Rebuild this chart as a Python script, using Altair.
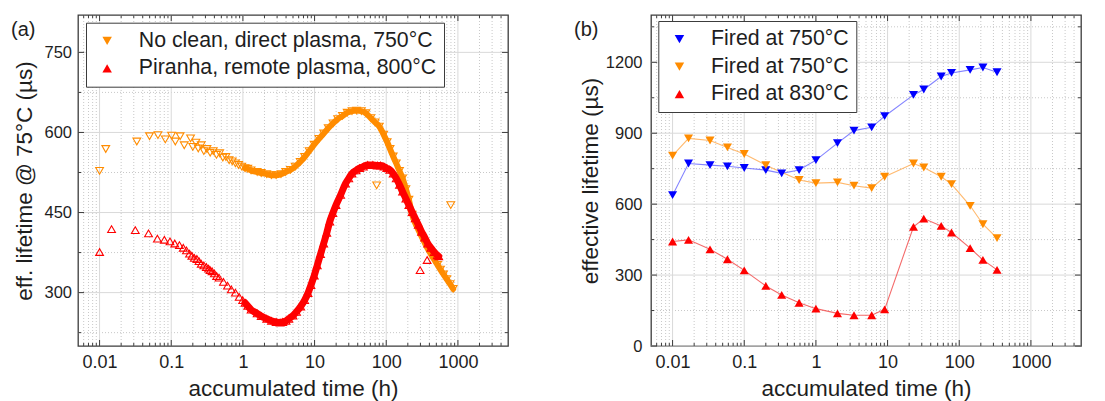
import altair as alt
import pandas as pd

FONT = "Liberation Sans"
INK = "#1e1e1e"
FRAME = "#3c3c3c"
GRID = "#d9d9d9"
GRID_MINOR = "#c8c8c8"

H = 331
WA = 430
WB = 430
XDOM_A = [0.005, 5000]
XDOM_B = [0.005, 5000]
YDOM_A = [200, 820]
YDOM_B = [0, 1400]

panel_labels = ["(a)", "(b)"]
x_title = "accumulated time (h)"
a_y_title = "eff. lifetime @ 75°C (µs)"
b_y_title = "effective lifetime (µs)"

# ---------------- panel (a) ----------------
a_series = ["No clean, direct plasma, 750°C", "Piranha, remote plasma, 800°C"]
a_colors = ["#ff8c00", "#ff0000"]
a_shapes = ["triangle-down", "triangle-up"]

a_or_sparse_t = [0.0100, 0.0122, 0.0331, 0.0497, 0.0653, 0.0826, 0.101, 0.114, 0.133, 0.152,
                 0.186, 0.200, 0.221, 0.238, 0.262, 0.285, 0.315, 0.349, 0.386, 0.428,
                 0.474, 0.525, 0.580, 0.642, 0.711, 0.787, 0.870, 0.964]
a_or_sparse_v = [528, 569, 583, 593, 595, 587, 594, 583, 593, 576,
                 589, 573, 581, 570, 576, 565, 569, 562, 565, 558,
                 561, 553, 554, 548, 546, 542, 539, 536]

a_or_dense_t = [1.07, 1.17, 1.3, 1.58, 1.8, 2.15, 2.5, 2.91, 3.4, 3.95,
                4.6, 5.36, 6.3, 7.27, 8.4, 9.85, 11.5, 13.4, 15.5, 18.1,
                21, 24.5, 28.5, 33.3, 38.5, 45, 52, 61, 70, 80,
                92, 103, 113, 125, 138, 153, 169, 188, 207, 230,
                254, 280, 311, 345, 380, 420, 467, 520, 571, 630,
                700, 780, 859]
a_or_dense_v = [533, 532, 529, 526, 524, 522, 520, 520, 522, 526,
                530, 536, 545, 554, 565, 577, 588, 598, 608, 617,
                625, 631, 637, 640, 641, 640, 636, 627, 619, 611,
                596, 582, 569, 555, 542, 528, 514, 494, 474, 446,
                430, 418, 405, 393, 382, 372, 362, 352, 343, 334,
                325, 316, 307]
a_or_out_t = [73.5, 795]
a_or_out_v = [501, 464]

a_rd_sparse_t = [0.0100, 0.0147, 0.0315, 0.0482, 0.0641, 0.0801, 0.0961, 0.112, 0.130, 0.147,
                 0.163, 0.180, 0.194, 0.210, 0.228, 0.244, 0.262, 0.285, 0.309, 0.332,
                 0.349, 0.371, 0.400, 0.430, 0.464, 0.535, 0.610, 0.689, 0.786, 0.888, 0.993]
a_rd_sparse_v = [376, 419, 417, 411, 401, 399, 396, 392, 389, 384,
                 379, 373, 369, 365, 363, 359, 354, 351, 348, 345,
                 342, 340, 336, 331, 328, 320, 313, 306, 300, 292, 286]

a_rd_dense_t = [1.07, 1.17, 1.3, 1.58, 1.8, 2.15, 2.5, 2.91, 3.3, 3.6,
                4.0, 4.37, 5.0, 5.6, 6.4, 7.27, 8.1, 8.9, 9.9, 10.9,
                12.1, 13.4, 14.8, 16.3, 18, 19.9, 23.1, 27, 30, 33.3,
                38, 42.5, 48, 55, 65, 75, 83, 93, 102, 112,
                125, 138, 153, 169, 188, 207, 230, 254, 280, 311,
                345, 380, 420, 467, 515, 540]
a_rd_dense_v = [281, 275, 268, 261, 256, 251, 247, 245, 244, 245,
                247, 251, 257, 264, 274, 286, 299, 314, 332, 351,
                372, 392, 412, 433, 449, 464, 483, 504, 514, 523,
                529, 533, 536, 539, 539, 538, 538, 536, 533, 530,
                523, 514, 502, 489, 476, 464, 451, 439, 427, 414,
                403, 392, 384, 376, 370, 368]
a_rd_out_t = [297, 372]
a_rd_out_v = [342, 361]

# ---------------- panel (b) ----------------
b_keys = ["s1", "s2", "s3"]
b_labels = ["Fired at 750°C", "Fired at 750°C", "Fired at 830°C"]
b_colors = ["#0000ff", "#ff8c00", "#ff0000"]
b_line_colors = ["#6f6fff", "#ffad55", "#f25050"]
b_shapes = ["triangle-down", "triangle-down", "triangle-up"]

b_t_blue = [0.01, 0.0167, 0.0333, 0.0583, 0.1, 0.2, 0.333, 0.583, 1, 2,
            3.4, 6, 9.1, 23, 32, 56, 78, 142, 214, 337]
b_v_blue = [638, 772, 765, 760, 753, 744, 730, 744, 786, 858,
            911, 925, 972, 1062, 1085, 1140, 1155, 1168, 1178, 1158]
b_t_orange = [0.01, 0.0167, 0.0333, 0.0583, 0.1, 0.2, 0.583, 1, 2,
              3.4, 6, 9.1, 23, 32, 56, 78, 142, 214, 337]
b_v_orange = [805, 878, 869, 840, 812, 765, 702, 689, 692,
              678, 668, 716, 772, 755, 716, 685, 593, 515, 456]
b_t_red = [0.01, 0.0167, 0.0333, 0.0583, 0.1, 0.2, 0.333, 0.583, 1, 2,
           3.4, 6, 9.1, 23, 32, 56, 78, 142, 214, 337]
b_v_red = [442, 449, 409, 367, 320, 254, 216, 183, 158, 138,
           130, 130, 155, 504, 539, 508, 480, 414, 364, 322]

# ---------------- axes ----------------
x_major = [0.01, 0.1, 1, 10, 100, 1000]
a_y_major = [300, 450, 600, 750]
a_y_minor = [225, 375, 525, 675]
b_y_major = [0, 300, 600, 900, 1200]
b_y_minor = [150, 450, 750, 1050, 1350]


def minor_decades(dom):
    out = []
    for e in range(-4, 5):
        for k in range(2, 10):
            val = k * 10.0 ** e
            if dom[0] * 1.0001 < val < dom[1] * 0.9999:
                out.append(val)
    return out


def decor(X, Y, W, xmin, ymaj, ymin):
    dfx = pd.DataFrame({"t": x_major})
    dfxm = pd.DataFrame({"t": xmin})
    dfy = pd.DataFrame({"v": ymaj})
    dfym = pd.DataFrame({"v": ymin})
    L = []
    L.append(alt.Chart(dfxm).mark_rule(color=GRID_MINOR, strokeWidth=1, strokeDash=[1, 2]).encode(x=X))
    L.append(alt.Chart(dfym).mark_rule(color=GRID_MINOR, strokeWidth=1, strokeDash=[1, 2]).encode(y=Y))
    L.append(alt.Chart(dfx).mark_rule(color=GRID, strokeWidth=1).encode(x=X))
    L.append(alt.Chart(dfy).mark_rule(color=GRID, strokeWidth=1).encode(y=Y))
    for df, n in ((dfx, 6), (dfxm, 3)):
        L.append(alt.Chart(df).mark_rule(color=FRAME, strokeWidth=1).encode(
            x=X, y=alt.value(H), y2=alt.value(H - n)))
        L.append(alt.Chart(df).mark_rule(color=FRAME, strokeWidth=1).encode(
            x=X, y=alt.value(0), y2=alt.value(n)))
    for df, n in ((dfy, 6), (dfym, 3)):
        L.append(alt.Chart(df).mark_rule(color=FRAME, strokeWidth=1).encode(
            y=Y, x=alt.value(0), x2=alt.value(n)))
        L.append(alt.Chart(df).mark_rule(color=FRAME, strokeWidth=1).encode(
            y=Y, x=alt.value(W), x2=alt.value(W - n)))
    return L


def x_axis():
    return alt.Axis(values=x_major, format="~g", title=x_title, labelFontSize=18,
                    labelPadding=7, titleFontSize=22.5, titleY=42, titleBaseline="middle",
                    labelOverlap=False, labelFlush=False)


def make_legend(lx, ly, expr=None):
    kw = dict(title=None, orient="none", legendX=lx, legendY=ly, direction="vertical",
              labelFont=FONT, labelFontSize=21.3, labelColor=INK, labelLimit=1000,
              symbolSize=90, symbolOpacity=1, symbolOffset=3, labelOffset=21,
              padding=7.5, rowPadding=5.5, strokeColor=FRAME, fillColor="white",
              cornerRadius=0)
    if expr is not None:
        kw["labelExpr"] = expr
    return alt.Legend(**kw)


def df_of(t, v, name, col):
    return pd.DataFrame({"t": t, "v": v, col: name})


# ---------------- build panel (a) ----------------
xs_a = alt.Scale(type="log", domain=XDOM_A, nice=False)
ys_a = alt.Scale(domain=YDOM_A, nice=False, zero=False)
y_axis_a = alt.Axis(values=a_y_major, format="d", title=a_y_title, labelFontSize=16.5,
                    labelPadding=6.5, titleFontSize=22.5, titleX=-54, titleBaseline="middle")
XA = alt.X("t:Q", scale=xs_a, axis=x_axis())
YA = alt.Y("v:Q", scale=ys_a, axis=y_axis_a)

or_sp = df_of(a_or_sparse_t, a_or_sparse_v, a_series[0], "sample")
or_dn = df_of(a_or_dense_t, a_or_dense_v, a_series[0], "sample")
or_out = df_of(a_or_out_t, a_or_out_v, a_series[0], "sample")
rd_sp = df_of(a_rd_sparse_t, a_rd_sparse_v, a_series[1], "sample")
rd_dn = df_of(a_rd_dense_t, a_rd_dense_v, a_series[1], "sample")
rd_out = df_of(a_rd_out_t, a_rd_out_v, a_series[1], "sample")


def open_pts(df, color, shape, size=60):
    return alt.Chart(df).mark_point(shape=shape, filled=False, color=color, size=size,
                                    strokeWidth=1.1, opacity=1).encode(x=XA, y=YA)


def band(df, color, w):
    return alt.Chart(df).mark_line(color=color, strokeWidth=w, strokeJoin="round",
                                   strokeCap="round", interpolate="monotone").encode(x=XA, y=YA)


legend_a = make_legend(8, 7.7)

leg_layer_a = alt.Chart(pd.concat([or_sp, rd_sp])).mark_point(filled=True, opacity=0, size=10).encode(
    x=XA, y=YA,
    color=alt.Color("sample:N", scale=alt.Scale(domain=a_series, range=a_colors), legend=legend_a),
    shape=alt.Shape("sample:N", scale=alt.Scale(domain=a_series, range=a_shapes), legend=legend_a),
)

lab_a = alt.Chart(pd.DataFrame({"lab": [panel_labels[0]]})).mark_text(
    align="left", baseline="middle", fontSize=20, font=FONT, color=INK
).encode(x=alt.value(-67), y=alt.value(14.5), text="lab:N")

panel_a = alt.layer(
    *decor(XA, YA, WA, minor_decades(XDOM_A), a_y_major, a_y_minor),
    band(or_dn, a_colors[0], 6),
    open_pts(or_dn, a_colors[0], a_shapes[0]),
    open_pts(or_sp, a_colors[0], a_shapes[0]),
    open_pts(or_out, a_colors[0], a_shapes[0]),
    band(rd_dn, a_colors[1], 7),
    open_pts(rd_dn, a_colors[1], a_shapes[1]),
    open_pts(rd_sp, a_colors[1], a_shapes[1]),
    open_pts(rd_out, a_colors[1], a_shapes[1]),
    leg_layer_a,
    lab_a,
).properties(width=WA, height=H)

# ---------------- build panel (b) ----------------
xs_b = alt.Scale(type="log", domain=XDOM_B, nice=False)
ys_b = alt.Scale(domain=YDOM_B, nice=False, zero=False)
y_axis_b = alt.Axis(values=b_y_major, format="d", title=b_y_title, labelFontSize=16.5,
                    labelPadding=9, titleFontSize=22.5, titleX=-60.5, titleBaseline="middle")
XB = alt.X("t:Q", scale=xs_b, axis=x_axis())
YB = alt.Y("v:Q", scale=ys_b, axis=y_axis_b)

b_frames = [
    df_of(b_t_blue, b_v_blue, b_keys[0], "firing"),
    df_of(b_t_orange, b_v_orange, b_keys[1], "firing"),
    df_of(b_t_red, b_v_red, b_keys[2], "firing"),
]
b_df = pd.concat(b_frames)

label_expr = " : ".join(
    f"datum.label == '{k}' ? '{lab}'" for k, lab in zip(b_keys[:-1], b_labels[:-1])
) + f" : '{b_labels[-1]}'"

legend_b = make_legend(7.3, 6, label_expr)

color_b = alt.Scale(domain=b_keys, range=b_colors)
shape_b = alt.Scale(domain=b_keys, range=b_shapes)

lines_b = [
    alt.Chart(df).mark_line(strokeWidth=1.1, color=c, opacity=0.85).encode(x=XB, y=YB)
    for df, c in zip(b_frames, b_line_colors)
]
pts_b = alt.Chart(b_df).mark_point(filled=True, size=82, opacity=1).encode(
    x=XB, y=YB,
    color=alt.Color("firing:N", scale=color_b, legend=legend_b),
    shape=alt.Shape("firing:N", scale=shape_b, legend=legend_b),
)

lab_b = alt.Chart(pd.DataFrame({"lab": [panel_labels[1]]})).mark_text(
    align="left", baseline="middle", fontSize=20, font=FONT, color=INK
).encode(x=alt.value(-77), y=alt.value(14.5), text="lab:N")

panel_b = alt.layer(
    *decor(XB, YB, WB, minor_decades(XDOM_B), b_y_major, b_y_minor),
    *lines_b,
    pts_b,
    lab_b,
).properties(width=WB, height=H)

chart = alt.hconcat(panel_a, panel_b, spacing=63).resolve_scale(
    color="independent", shape="independent", x="independent", y="independent"
).resolve_legend(
    color="independent", shape="independent"
).properties(
    padding={"left": 2, "top": 5, "right": 0, "bottom": 0}
).configure(font=FONT).configure_view(
    stroke=FRAME, strokeWidth=1.3
).configure_axis(
    domain=False, ticks=False, grid=False, labelFont=FONT, titleFont=FONT,
    labelColor=INK, titleColor=INK, titleFontWeight="normal"
)

chart.save("out.html", embed_options={"renderer": "svg", "actions": False})
